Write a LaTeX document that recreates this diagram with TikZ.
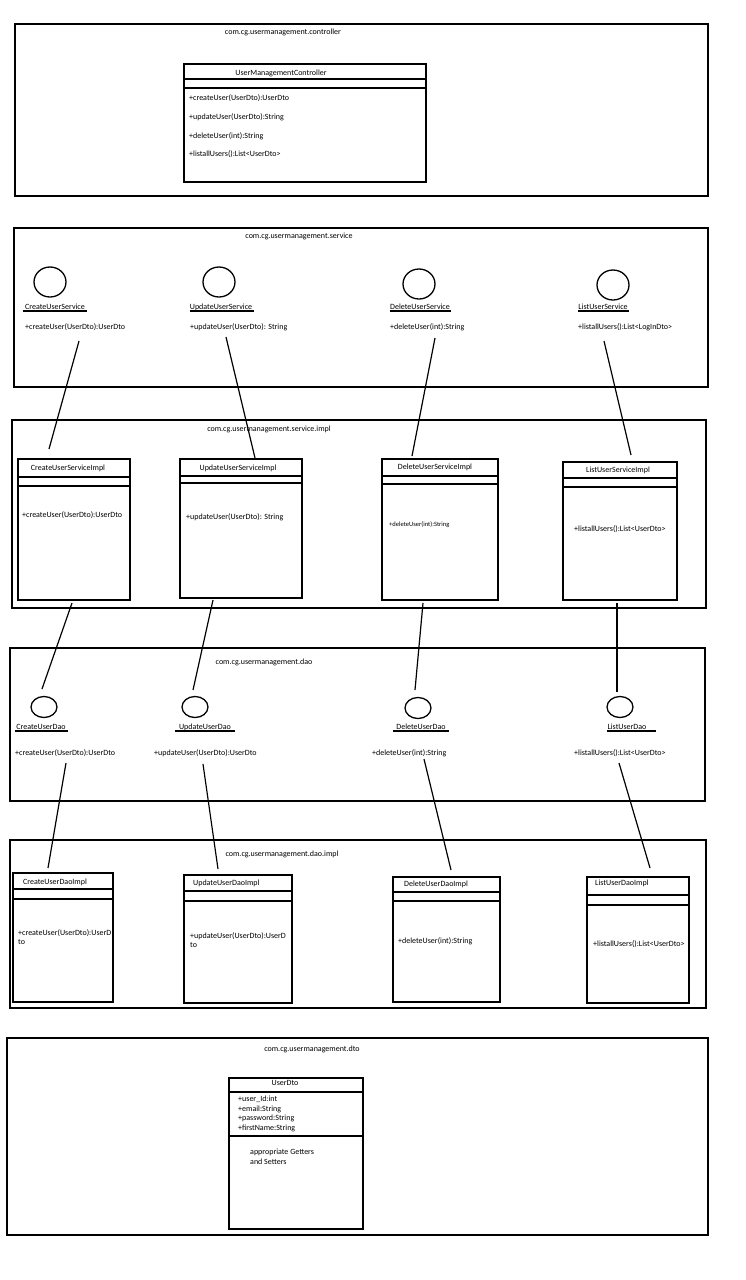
\documentclass[tikz,border=0pt]{standalone}
\usepackage{fontspec}
\setmainfont{Carlito}
\usetikzlibrary{calc}
\def\classbox(#1,#2)(#3,#4)(#5,#6){\draw[classline] (#1,#2) rectangle (#3,#4); \draw[classline] (#1,#5) -- (#3,#5); \draw[classline] (#1,#6) -- (#3,#6);}
\def\iface(#1,#2)(#3:#4:#5){\draw[classline] (#1,#2) ellipse ({\rx} and {\ry}); \draw[classline] (#3,#5) -- (#4,#5);}
\tikzset{
  pkgbox/.style={line width=1.5pt},
  classline/.style={line width=1.3pt},
  link/.style={line width=1.2pt},
  txt/.style={font=\fontsize{8}{9}\selectfont, inner sep=0pt},
  tiny/.style={font=\fontsize{6.5}{7.5}\selectfont, inner sep=0pt}
}
\begin{document}
\begin{tikzpicture}[x=1pt,y=-1pt]
			%%%%% START %%%%%
			\useasboundingbox (0,0) rectangle (746,1280);
			\fill[white] (0,0) rectangle (746,1280);
			\def\mw{west}
			
			% controller
			\draw[pkgbox] (15,24) rectangle (708,196);
			\node[txt] (pctrl) at (283,32) {com.cg.usermanagement.controller};
			\classbox(184,64)(426,182)(79,88)
			\node[txt] (umc) at (281,73) {UserManagementController};
			\node[txt,anchor=\mw] (umc1) at (189,98) {+createUser(UserDto):UserDto};
			\node[txt,anchor=\mw] (umc2) at (189,117) {+updateUser(UserDto):String};
			\node[txt,anchor=\mw] (umc3) at (189,136) {+deleteUser(int):String};
			\node[txt,anchor=\mw] (umc4) at (189,154) {+listallUsers():List<UserDto>};
			
			% service
			\draw[pkgbox] (14,228) rectangle (708,387);
			\node[txt] (psrv) at (299,236) {com.cg.usermanagement.service};
			\def\rx{16}
			\def\ry{15}
			\iface(50,282)(23:87:311)
			\iface(219,282)(190:254:311)
			\iface(419,284)(390:451:311)
			\iface(613,285)(578:629:311)
			\node[txt] (cus) at (55,307) {CreateUserService};
			\node[txt] (uus) at (221,307) {UpdateUserService};
			\node[txt] (dus) at (420,307) {DeleteUserService};
			\node[txt] (lus) at (603,307) {ListUserService};
			\node[txt,anchor=\mw] (cus1) at (25,327) {+createUser(UserDto):UserDto};
			\node[txt,anchor=\mw] (uus1) at (190,327) {+updateUser(UserDto): String};
			\node[txt,anchor=\mw] (dus1) at (390,327) {+deleteUser(int):String};
			\node[txt,anchor=\mw] (lus1) at (578,327) {+listallUsers():List<LogInDto>};
			
			% service.impl
			\draw[pkgbox] (12,420) rectangle (706,608);
			\node[txt] (psimpl) at (269,429) {com.cg.usermanagement.service.impl};
			\classbox(18,459)(130,600)(477,486)
			\classbox(180,459)(302,598)(476,483)
			\classbox(382,459)(498,600)(476,484)
			\classbox(563,462)(677,600)(478,487)
			\node[txt] (cusi) at (68,468) {CreateUserServiceImpl};
			\node[txt] (uusi) at (238,468) {UpdateUserServiceImpl};
			\node[txt] (dusi) at (435,467) {DeleteUserServiceImpl};
			\node[txt] (lusi) at (618,470) {ListUserServiceImpl};
			\node[txt,anchor=\mw] (cusi1) at (22,515) {+createUser(UserDto):UserDto};
			\node[txt,anchor=\mw] (uusi1) at (186,517) {+updateUser(UserDto): String};
			\node[tiny,anchor=\mw] (dusi1) at (389,525) {+deleteUser(int):String};
			\node[txt,anchor=\mw] (lusi1) at (574,529) {+listallUsers():List<UserDto>};
			
			% dao
			\draw[pkgbox] (10,648) rectangle (705,801);
			\node[txt] (pdao) at (264,662) {com.cg.usermanagement.dao};
			\def\rx{13}
			\def\ry{10.5}
			\iface(44,707)(15:68:731)
			\iface(195,707)(175:235:731)
			\iface(418,708)(393:449:731)
			\iface(620,707)(607:656:731)
			\node[txt] (cud) at (41,727) {CreateUserDao};
			\node[txt] (uud) at (205,727) {UpdateUserDao};
			\node[txt] (dud) at (421,727) {DeleteUserDao};
			\node[txt] (lud) at (627,727) {ListUserDao};
			\node[txt,anchor=\mw] (cud1) at (15,753) {+createUser(UserDto):UserDto};
			\node[txt,anchor=\mw] (uud1) at (154,753) {+updateUser(UserDto):UserDto};
			\node[txt,anchor=\mw] (dud1) at (372,753) {+deleteUser(int):String};
			\node[txt,anchor=\mw] (lud1) at (574,753) {+listallUsers():List<UserDto>};
			
			% dao.impl
			\draw[pkgbox] (10,840) rectangle (706,1008);
			\node[txt] (pdimpl) at (282,854) {com.cg.usermanagement.dao.impl};
			\classbox(13,873)(113,1002)(889,899)
			\classbox(184,875)(292,1003)(891,901)
			\classbox(393,877)(500,1002)(892,901)
			\classbox(587,877)(689,1003)(895,905)
			\node[txt,anchor=\mw] (cudi) at (23,882) {CreateUserDaoImpl};
			\node[txt,anchor=\mw] (uudi) at (193,883) {UpdateUserDaoImpl};
			\node[txt,anchor=\mw] (dudi) at (404,884) {DeleteUserDaoImpl};
			\node[txt,anchor=\mw] (ludi) at (595,883) {ListUserDaoImpl};
			\node[txt,anchor=\mw] (cudi1) at (18,933) {+createUser(UserDto):UserD};
			\node[txt,anchor=\mw] (cudi2) at (18,942) {to};
			\node[txt,anchor=\mw] (uudi1) at (190,936) {+updateUser(UserDto):UserD};
			\node[txt,anchor=\mw] (uudi2) at (190,945) {to};
			\node[txt,anchor=\mw] (dudi1) at (398,941) {+deleteUser(int):String};
			\node[txt,anchor=\mw] (ludi1) at (593,944) {+listallUsers():List<UserDto>};
			
			% dto
			\draw[pkgbox] (7,1038) rectangle (708,1235);
			\node[txt] (pdto) at (312,1049) {com.cg.usermanagement.dto};
			\classbox(229,1078)(363,1229)(1092,1136)
			\node[txt] (udto) at (285,1083) {UserDto};
			\node[txt,anchor=\mw] (ua1) at (238,1099) {+user\_Id:int};
			\node[txt,anchor=\mw] (ua2) at (238,1109) {+email:String};
			\node[txt,anchor=\mw] (ua3) at (238,1118) {+password:String};
			\node[txt,anchor=\mw] (ua4) at (238,1128) {+firstName:String};
			\node[txt,anchor=\mw] (ug1) at (250,1152) {appropriate Getters};
			\node[txt,anchor=\mw] (ug2) at (250,1162) {and Setters};
			
			% links
			\coordinate (s1) at (79,341);  \coordinate (si1) at (49,449);
			\coordinate (s2) at (226,337); \coordinate (si2) at (255,458);
			\coordinate (s3) at (435,338); \coordinate (si3) at (412,456);
			\coordinate (s4) at (604,341); \coordinate (si4) at (631,455);
			\coordinate (i1) at (72,603);  \coordinate (d1) at (42,689);
			\coordinate (i2) at (213,600); \coordinate (d2) at (193,690);
			\coordinate (i3) at (423,603); \coordinate (d3) at (415,690);
			\coordinate (i4) at (617,603); \coordinate (d4) at (617,692);
			\coordinate (e1) at (66,763);  \coordinate (di1) at (48,868);
			\coordinate (e2) at (203,764); \coordinate (di2) at (218,869);
			\coordinate (e3) at (424,759); \coordinate (di3) at (451,870);
			\coordinate (e4) at (619,763); \coordinate (di4) at (650,868);
			\draw[link] (s1) -- (si1);
			\draw[link] (s2) -- (si2);
			\draw[link] (s3) -- (si3);
			\draw[link] (s4) -- (si4);
			\draw[link] (i1) -- (d1);
			\draw[link] (i2) -- (d2);
			\draw[link] (i3) -- (d3);
			\draw[link] (i4) -- (d4);
			\draw[link] (e1) -- (di1);
			\draw[link] (e2) -- (di2);
			\draw[link] (e3) -- (di3);
			\draw[link] (e4) -- (di4);
			%%%%% END %%%%%
\end{tikzpicture}
\end{document}
